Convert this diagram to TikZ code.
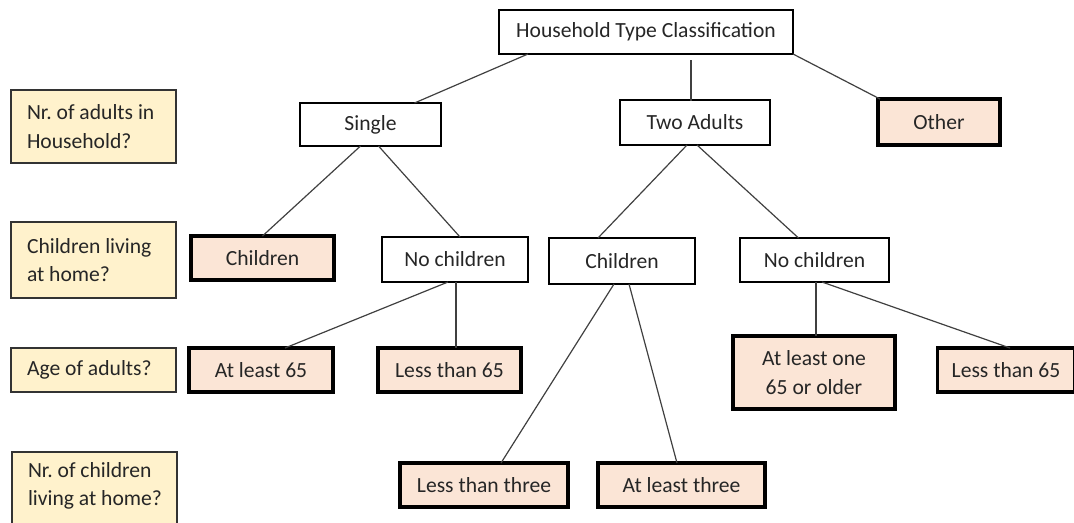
\documentclass[tikz,border=0pt]{standalone}
\usepackage{fontspec}
\setmainfont{Carlito}
\frenchspacing
\definecolor{pinkfill}{HTML}{FBE5D6}
\definecolor{yellowfill}{HTML}{FFF2CC}
\definecolor{linegray}{HTML}{404040}
\begin{document}
\begin{tikzpicture}[x=0.75pt,y=-0.75pt,
  every node/.style={font=\fontsize{16.2}{21.5}\selectfont, inner sep=0pt, outer sep=0pt, text=black!85},
  plainbox/.style={draw=black, line width=0.9pt, fill=white, rectangle, align=center},
  leafbox/.style={draw=black, line width=2.4pt, fill=pinkfill, rectangle, align=center},
  qbox/.style={draw=black!80, line width=0.9pt, fill=yellowfill, rectangle, minimum width=165*0.75pt},
  qtext/.style={anchor=west, align=left},
  conn/.style={draw=linegray, line width=0.9pt}
]
\useasboundingbox (0,0) rectangle (1074,522);
% question labels
\node[qbox, minimum height=73*0.75pt] (lab1) at (93.5,126.5) {};
\node[qbox, minimum height=76*0.75pt] (lab2) at (93.5,260) {};
\node[qbox, minimum height=44*0.75pt] (lab3) at (93.5,370) {};
\node[qbox, minimum height=76*0.75pt] (lab4) at (94.5,490) {};
\node[qtext] (lab1t) at ([xshift=16*0.75pt]lab1.west) {Nr. of adults in\\Household?};
\node[qtext] (lab2t) at ([xshift=16*0.75pt]lab2.west) {Children living\\at home?};
\node[qtext] (lab3t) at ([xshift=16*0.75pt]lab3.west) {Age of adults?};
\node[qtext] (lab4t) at ([xshift=16*0.75pt,yshift=4*0.75pt]lab4.west) {Nr. of children\\living at home?};
% tree nodes
\node[plainbox, minimum width=294*0.75pt, minimum height=44*0.75pt] (title) at (646,32) {Household Type Classification};
\node[plainbox, minimum width=141*0.75pt, minimum height=43*0.75pt] (single) at (370.5,124.5) {Single};
\node[plainbox, minimum width=150*0.75pt, minimum height=45*0.75pt] (two) at (695,122.5) {Two Adults};
\node[leafbox, minimum width=122*0.75pt, minimum height=46*0.75pt] (other) at (939,122) {Other};
\node[leafbox, minimum width=143*0.75pt, minimum height=44*0.75pt] (ch1) at (262.5,258) {Children};
\node[plainbox, minimum width=146*0.75pt, minimum height=45*0.75pt] (noch1) at (455,259.5) {No children};
\node[plainbox, minimum width=146*0.75pt, minimum height=46*0.75pt] (ch2) at (622,261) {Children};
\node[plainbox, minimum width=149*0.75pt, minimum height=44*0.75pt] (noch2) at (814.5,260) {No children};
\node[leafbox, minimum width=144*0.75pt, minimum height=44*0.75pt] (al65) at (261,370) {At least 65};
\node[leafbox, minimum width=143*0.75pt, minimum height=44*0.75pt] (lt65) at (449.5,370) {Less than 65};
\node[leafbox, minimum width=162*0.75pt, minimum height=73*0.75pt] (alone) at (814,372.5) {At least one\\65 or older};
\node[leafbox, minimum width=137*0.75pt, minimum height=44*0.75pt] (lt65b) at (1006,370) {Less than 65};
\node[leafbox, minimum width=168*0.75pt, minimum height=44*0.75pt] (lt3) at (484,485) {Less than three};
\node[leafbox, minimum width=167*0.75pt, minimum height=44*0.75pt] (al3) at (681.5,485) {At least three};
% connectors
\draw[conn] ([xshift=-118*0.75pt]title.south) -- ([xshift=44*0.75pt]single.north);
\draw[conn] ([xshift=45*0.75pt,yshift=-6*0.75pt]title.south) -- ([yshift=-1*0.75pt,xshift=-4*0.75pt]two.north);
\draw[conn] (title.south east) -- ([xshift=-59*0.75pt]other.north);
\draw[conn] ([xshift=-10*0.75pt]single.south) -- (ch1.north);
\draw[conn] ([xshift=8*0.75pt]single.south) -- ([xshift=5*0.75pt]noch1.north);
\draw[conn] ([xshift=-8*0.75pt]two.south) -- ([xshift=-24*0.75pt]ch2.north);
\draw[conn] ([xshift=2*0.75pt]two.south) -- ([xshift=-16*0.75pt]noch2.north);
\draw[conn] ([xshift=-7*0.75pt]noch1.south) -- ([xshift=24*0.75pt]al65.north);
\draw[conn] ([xshift=1*0.75pt]noch1.south) -- ([xshift=6.5*0.75pt]lt65.north);
\draw[conn] ([xshift=-8*0.75pt]ch2.south) -- ([xshift=17*0.75pt]lt3.north);
\draw[conn] ([xshift=7*0.75pt]ch2.south) -- ([xshift=-4.5*0.75pt]al3.north);
\draw[conn] ([xshift=1.5*0.75pt]noch2.south) -- ([xshift=2*0.75pt]alone.north);
\draw[conn] ([xshift=7.5*0.75pt]noch2.south) -- ([xshift=4*0.75pt]lt65b.north);
\end{tikzpicture}
\end{document}
